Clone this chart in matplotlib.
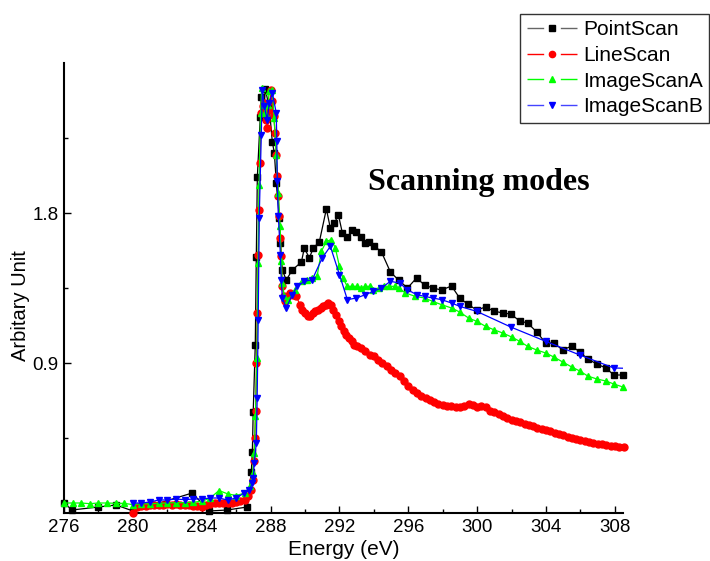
import numpy as np
import matplotlib
matplotlib.use("Agg")
import matplotlib.pyplot as plt
from matplotlib.lines import Line2D
from matplotlib.ticker import FixedLocator

plt.rcParams['font.family'] = ['Liberation Sans', 'DejaVu Sans']
plt.rcParams['lines.scale_dashes'] = False

## DATA (energy in eV, intensity in arbitrary units)
point_e = [276.0, 276.47, 277.98, 279.02, 280.01, 283.45, 284.43, 285.48, 286.65, 286.88,
           286.94, 286.99, 287.11, 287.17, 287.23, 287.40, 287.46, 287.63, 287.69, 287.92,
           288.10, 288.22, 288.33, 288.51, 288.57, 288.68, 288.91, 289.26, 289.79, 289.96,
           290.25, 290.48, 290.83, 291.24, 291.47, 291.71, 291.94, 292.17, 292.46, 292.75,
           292.99, 293.28, 293.51, 293.74, 294.03, 294.44, 294.96, 295.43, 295.95, 296.48,
           296.94, 297.41, 297.93, 298.51, 298.98, 299.44, 299.97, 300.49, 300.96, 301.48,
           301.95, 302.47, 302.93, 303.46, 303.98, 304.45, 304.97, 305.49, 305.96, 306.42,
           306.95, 307.47, 307.94, 308.46]
point_v = [0.06, 0.018, 0.036, 0.048, 0.012, 0.12, 0.012, 0.018, 0.036, 0.246,
           0.366, 0.606, 1.008, 1.536, 2.016, 2.376, 2.496, 2.46, 2.544, 2.436,
           2.226, 2.16, 1.98, 1.77, 1.62, 1.458, 1.398, 1.458, 1.506, 1.59,
           1.53, 1.59, 1.626, 1.824, 1.71, 1.74, 1.788, 1.68, 1.656, 1.698,
           1.686, 1.656, 1.62, 1.626, 1.602, 1.566, 1.446, 1.398, 1.35, 1.41,
           1.368, 1.35, 1.338, 1.362, 1.29, 1.254, 1.218, 1.236, 1.212, 1.2,
           1.194, 1.152, 1.14, 1.086, 1.02, 1.02, 0.978, 1.002, 0.966, 0.924,
           0.894, 0.87, 0.828, 0.828]

# line scan: pre-edge and tail sampled every 0.25 eV, edge listed point by point
line_pre_e = np.arange(280.0, 286.6, 0.25)
line_pre_v = [0.0, 0.035, 0.045, 0.045, 0.048, 0.05, 0.048, 0.05, 0.052, 0.05,
              0.052, 0.05, 0.048, 0.05, 0.045, 0.04, 0.036, 0.05, 0.055, 0.058,
              0.06, 0.06, 0.058, 0.062, 0.066, 0.07, 0.08]
line_edge_e = [286.7, 286.85, 286.95, 287.02, 287.08, 287.13, 287.18, 287.22, 287.28, 287.32,
               287.38, 287.46, 287.55, 287.63, 287.75, 287.81, 287.92, 288.03, 288.09, 288.18,
               288.27, 288.33, 288.39, 288.45, 288.5, 288.56, 288.62, 288.68, 288.75, 288.85,
               289.0, 289.15, 289.3, 289.5, 289.7, 289.85, 290.0, 290.15, 290.3, 290.45,
               290.6, 290.75, 290.9, 291.05, 291.2, 291.35, 291.5, 291.65, 291.8, 291.95,
               292.1, 292.25, 292.4, 292.55, 292.7, 292.85, 293.0]
line_edge_v = [0.1, 0.14, 0.2, 0.31, 0.45, 0.61, 0.9, 1.2, 1.55, 1.82,
               2.1, 2.4, 2.44, 2.46, 2.36, 2.31, 2.42, 2.54, 2.47, 2.38,
               2.28, 2.15, 2.02, 1.9, 1.78, 1.65, 1.54, 1.36, 1.3, 1.27,
               1.3, 1.32, 1.31, 1.3, 1.25, 1.22, 1.2, 1.18, 1.18, 1.2,
               1.21, 1.22, 1.23, 1.24, 1.25, 1.26, 1.25, 1.22, 1.19, 1.15,
               1.12, 1.09, 1.07, 1.05, 1.03, 1.01, 1.0]
line_tail_e = np.arange(293.25, 308.6, 0.25)
line_tail_v = [0.99, 0.97, 0.95, 0.94, 0.92, 0.9, 0.88, 0.86, 0.84, 0.82,
               0.79, 0.76, 0.74, 0.72, 0.7, 0.69, 0.68, 0.665, 0.655, 0.65,
               0.645, 0.64, 0.635, 0.636, 0.645, 0.654, 0.648, 0.638, 0.64, 0.635,
               0.615, 0.605, 0.595, 0.585, 0.57, 0.558, 0.55, 0.544, 0.535, 0.527,
               0.52, 0.513, 0.506, 0.5, 0.49, 0.483, 0.476, 0.468, 0.458, 0.452,
               0.444, 0.438, 0.432, 0.425, 0.42, 0.416, 0.413, 0.406, 0.402, 0.4,
               0.397, 0.396]

imgA_e = [276.0, 276.5, 277.0, 277.5, 278.0, 278.5, 279.0, 279.5, 280.0, 280.5,
          281.0, 281.5, 282.0, 282.5, 283.0, 283.5, 284.0, 284.5, 285.0, 285.5,
          286.0, 286.5, 286.8, 286.95, 287.05, 287.12, 287.2, 287.27, 287.33, 287.42,
          287.48, 287.6, 287.7, 287.85, 287.92, 288.1, 288.2, 288.33, 288.45, 288.55,
          288.62, 288.68, 288.8, 289.03, 289.4, 289.8, 290.1, 290.4, 290.7, 290.95,
          291.24, 291.53, 291.76, 292.0, 292.2, 292.45, 292.75, 293.0, 293.28, 293.5,
          293.75, 293.97, 294.3, 294.6, 294.9, 295.2, 295.43, 295.83, 296.4, 296.94,
          297.41, 297.93, 298.51, 298.98, 299.5, 299.97, 300.49, 300.96, 301.48, 302.0,
          302.47, 302.93, 303.46, 303.98, 304.45, 304.97, 305.49, 305.96, 306.42, 306.95,
          307.47, 307.94, 308.46]
imgA_v = [0.06, 0.06, 0.06, 0.056, 0.06, 0.06, 0.058, 0.058, 0.05, 0.055,
          0.055, 0.058, 0.06, 0.062, 0.062, 0.065, 0.07, 0.09, 0.135, 0.115,
          0.105, 0.12, 0.16, 0.24, 0.36, 0.58, 0.93, 1.5, 1.97, 2.4,
          2.55, 2.45, 2.4, 2.45, 2.53, 2.54, 2.37, 2.15, 1.92, 1.72,
          1.51, 1.38, 1.3, 1.28, 1.34, 1.39, 1.4, 1.41, 1.42, 1.57,
          1.63, 1.64, 1.59, 1.48, 1.41, 1.36, 1.36, 1.36, 1.35, 1.36,
          1.36, 1.34, 1.35, 1.36, 1.36, 1.36, 1.35, 1.32, 1.3, 1.29,
          1.27, 1.25, 1.23, 1.206, 1.17, 1.15, 1.12, 1.1, 1.08, 1.056,
          1.03, 1.0, 0.978, 0.96, 0.936, 0.906, 0.876, 0.852, 0.822, 0.804,
          0.792, 0.774, 0.756]

imgB_e = [280.0, 280.5, 281.0, 281.5, 282.0, 282.5, 283.0, 283.5, 284.0, 284.5,
          285.0, 285.5, 286.0, 286.47, 286.76, 286.94, 287.0, 287.05, 287.17, 287.22,
          287.28, 287.34, 287.46, 287.52, 287.63, 287.81, 287.92, 288.1, 288.33, 288.36,
          288.39, 288.45, 288.57, 288.62, 288.68, 288.91, 289.26, 289.55, 289.96, 290.42,
          291.0, 291.47, 292.0, 292.46, 292.99, 293.51, 293.97, 294.44, 294.96, 295.49,
          295.95, 296.48, 296.94, 297.41, 297.93, 298.51, 298.98, 299.97, 301.95, 303.98,
          305.96, 307.94, 309.5]
imgB_v = [0.06, 0.06, 0.066, 0.078, 0.078, 0.084, 0.08, 0.084, 0.084, 0.09,
          0.09, 0.078, 0.09, 0.12, 0.138, 0.18, 0.21, 0.3, 0.42, 0.69,
          1.16, 1.77, 2.27, 2.54, 2.44, 2.36, 2.46, 2.52, 2.4, 2.23,
          1.99, 1.78, 1.55, 1.4, 1.29, 1.23, 1.31, 1.36, 1.39, 1.4,
          1.53, 1.6, 1.43, 1.28, 1.29, 1.31, 1.33, 1.35, 1.39, 1.38,
          1.34, 1.31, 1.3, 1.29, 1.28, 1.26, 1.24, 1.21, 1.116, 1.03,
          0.948, 0.87, 0.866]

line_e = np.concatenate([line_pre_e, line_edge_e, line_tail_e])
line_v = np.concatenate([line_pre_v, line_edge_v, line_tail_v])

labels = ["PointScan", "LineScan", "ImageScanA", "ImageScanB"]
markers = ["s", "o", "^", "v"]

fig = plt.figure(figsize=(7.1, 5.61), dpi=100)
ax = fig.add_axes([64/710, 48/561, 559/710, 450/561])

ax.plot(point_e, point_v, color="#000000", lw=0.9, marker="s", ms=4.3, clip_on=False, zorder=3)
ax.plot(line_e, line_v, color="#ff0000", lw=0.9, marker="o", ms=5, clip_on=False, zorder=4)
ax.plot(imgA_e, imgA_v, color="#00ff00", lw=0.9, marker="^", ms=5, clip_on=False, zorder=5)
ax.plot(imgB_e, imgB_v, color="#0000ff", lw=0.9, marker="v", ms=5, zorder=6)

ax.set_xlim(276, 308.47)
ax.set_ylim(0, 2.7)
ax.xaxis.set_major_locator(FixedLocator(np.arange(276, 309, 4)))
ax.xaxis.set_minor_locator(FixedLocator(np.arange(278, 309, 4)))
ax.yaxis.set_major_locator(FixedLocator([0.9, 1.8]))
ax.yaxis.set_minor_locator(FixedLocator([0.45, 1.35, 2.25]))
ax.set_yticklabels(["0.9", "1.8"])
ax.tick_params(which="both", direction="in", labelsize=13.5, width=1)
ax.tick_params(which="major", length=5, pad=4)
ax.tick_params(which="minor", length=3)

for side in ["top", "right"]:
    ax.spines[side].set_visible(False)
for side in ["left", "bottom"]:
    ax.spines[side].set_linewidth(1.5)

ax.set_xlabel("Energy (eV)", fontsize=15)
ax.set_ylabel("Arbitary Unit", fontsize=14.5)
ax.xaxis.set_label_coords(0.5, -0.06)
ax.yaxis.set_label_coords(-0.061, 0.462)

ax.text(300.1, 1.94, "Scanning modes", family=["Liberation Serif", "DejaVu Serif"],
        fontweight="bold", fontsize=23, ha="center", va="baseline")

# legend handles: line - marker - line with gaps like the original
handles = []
for c, m in zip(["#666666", "#ff0000", "#00ff00", "#4444ff"], markers):
    mc = "#000000" if m == "s" else ("#0000ff" if m == "v" else c)
    handles.append(Line2D([], [], color=c, lw=1, linestyle=(0, (12, 12, 12, 100)),
                          marker=m, ms=4.5, markerfacecolor=mc, markeredgecolor=mc))
leg = fig.legend(handles, labels, loc="upper right", bbox_to_anchor=(709/710, 1 - 14/561),
                 bbox_transform=fig.transFigure, fontsize=15, frameon=True, fancybox=False,
                 handlelength=2.4, handletextpad=0.3, borderpad=0.3, labelspacing=0.32,
                 borderaxespad=0)
leg.get_frame().set_edgecolor("black")
leg.get_frame().set_linewidth(1)

plt.savefig("out.png", dpi=100)
